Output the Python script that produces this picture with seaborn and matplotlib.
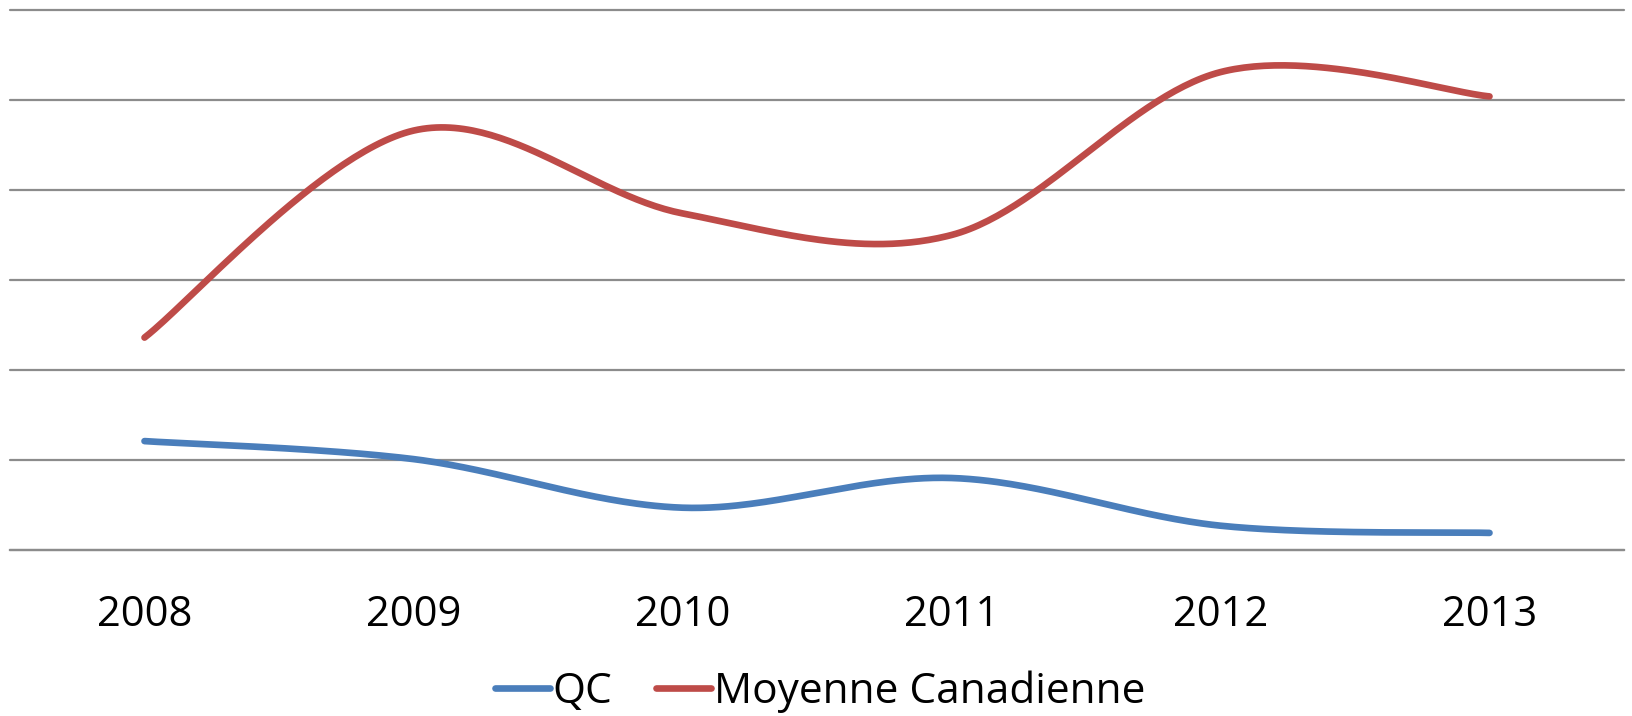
import numpy as np
import pandas as pd
import matplotlib
matplotlib.use('Agg')
import matplotlib.pyplot as plt
import seaborn as sns
from matplotlib.lines import Line2D

# -------------------- data --------------------
years = ['2008', '2009', '2010', '2011', '2012', '2013']
qc = [1.21, 1.01, 0.47, 0.80, 0.27, 0.19]
moyenne = [2.36, 4.66, 3.74, 3.50, 5.31, 5.04]

blue = '#4A7EBB'
red = '#BE4B48'


# Excel-like smoothing (Catmull-Rom through the points)
def smooth(xs, ys, n=60):
    p = np.column_stack([xs, ys]).astype(float)
    p = np.vstack([p[0], p, p[-1]])
    out = []
    t = np.linspace(0, 1, n)[:, None]
    for i in range(1, len(p) - 2):
        p0, p1, p2, p3 = p[i - 1], p[i], p[i + 1], p[i + 2]
        seg = 0.5 * ((2 * p1) + (-p0 + p2) * t +
                     (2 * p0 - 5 * p1 + 4 * p2 - p3) * t ** 2 +
                     (-p0 + 3 * p1 - 3 * p2 + p3) * t ** 3)
        out.append(seg if i == 1 else seg[1:])
    return np.vstack(out)


x = np.arange(len(years))
rows = []
for name, vals in [('QC', qc), ('Moyenne Canadienne', moyenne)]:
    c = smooth(x, vals)
    rows.append(pd.DataFrame({'x': c[:, 0], 'y': c[:, 1], 'serie': name}))
df = pd.concat(rows, ignore_index=True)

# -------------------- plot --------------------
sns.set_style('white')
plt.rcParams['font.family'] = ['Open Sans', 'DejaVu Sans']

fig = plt.figure(figsize=(16.33, 7.16), dpi=100)
ax = fig.add_axes([10 / 1633, 166 / 716, 1614 / 1633, 540 / 716])

sns.lineplot(data=df, x='x', y='y', hue='serie', estimator=None,
             sort=False, palette={'QC': blue, 'Moyenne Canadienne': red},
             linewidth=4.8, ax=ax, legend=False)
for line in ax.lines:
    line.set_solid_capstyle('round')

ax.set_xlim(-0.5, len(years) - 0.5)
ax.set_ylim(0, 6)
ax.set_yticks(range(7))
ax.set_yticklabels([])
ax.yaxis.grid(True, color='#8c8c8c', linewidth=1.6, zorder=0)
ax.set_axisbelow(True)
for gl in ax.get_ygridlines():
    gl.set_clip_on(False)
ax.set_xticks(x)
ax.set_xticklabels(years, fontsize=30, color='black')
ax.tick_params(axis='x', length=0, pad=32)
ax.tick_params(axis='y', length=0)
ax.set_xlabel('')
ax.set_ylabel('')
for s in ['top', 'left', 'right']:
    ax.spines[s].set_visible(False)
ax.spines['bottom'].set_color('#8c8c8c')
ax.spines['bottom'].set_linewidth(1.6)

handles = [Line2D([], [], color=blue, linewidth=4.8, solid_capstyle='round'),
           Line2D([], [], color=red, linewidth=4.8, solid_capstyle='round')]
leg = fig.legend(handles, ['QC', 'Moyenne Canadienne'], loc='center',
                 bbox_to_anchor=(820 / 1633, 24 / 716), ncol=2, frameon=False,
                 fontsize=30.5, handlelength=1.3, handletextpad=0.05,
                 columnspacing=1.05, borderaxespad=0)
for txt in leg.get_texts():
    txt.set_color('black')

fig.savefig('out.png', dpi=100)
